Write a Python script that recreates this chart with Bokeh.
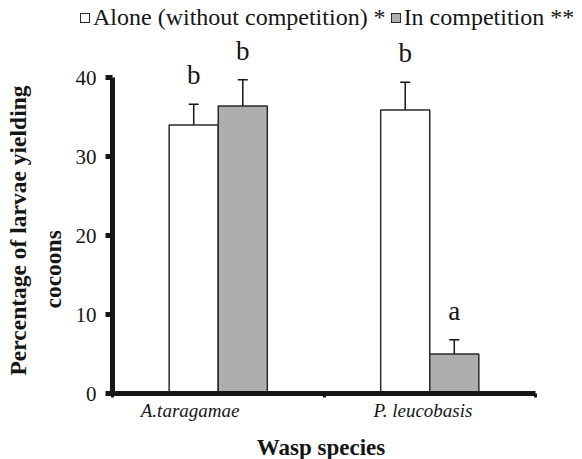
from bokeh.plotting import figure
from bokeh.layouts import column
from bokeh.models import (Range1d, FixedTicker, ColumnDataSource, Whisker, TeeHead,
                          Title, Div)
from bokeh.embed import file_html
from bokeh.resources import INLINE
from bokeh.core.properties import value

# ---------------- data ----------------
species = ["A.taragamae", "P. leucobasis"]
series = ["Alone (without competition) *", "In competition **"]
alone = [34.0, 35.9]
alone_err = [2.6, 3.5]
comp = [36.4, 5.0]
comp_err = [3.3, 1.8]
alone_letters = ["b", "b"]
comp_letters = ["b", "a"]
y_ticks = [0, 10, 20, 30, 40]
y_title = ["Percentage of larvae yielding", "cocoons"]
x_title = "Wasp species"

# ---------------- style ----------------
FONT = "'Liberation Serif', 'Times New Roman', serif"
INK = "#161616"
GRAY = "#adaead"
EDGE = "#2a2a2a"
SERIES_FILL = ["white", GRAY]
BAR_W = 0.232
LABEL_SHIFT = [-0.133, -0.032]   # category label offset (style)
PX_PER_UNIT = 7.9
TOTAL_W, TOTAL_H = 582, 459
LEG_H = 34
FRAME_BOTTOM = 393
BOT_B = 40
MAIN_H = FRAME_BOTTOM - LEG_H + BOT_B
STRIP_H = TOTAL_H - LEG_H - MAIN_H

n = len(species)
centers = [i + 0.5 for i in range(n)]

src_a = ColumnDataSource(dict(
    x=[c - BAR_W / 2 for c in centers], top=alone,
    upper=[v + e for v, e in zip(alone, alone_err)],
    lower=[v - e for v, e in zip(alone, alone_err)],
    letter=alone_letters))
src_c = ColumnDataSource(dict(
    x=[c + BAR_W / 2 for c in centers], top=comp,
    upper=[v + e for v, e in zip(comp, comp_err)],
    lower=[v - e for v, e in zip(comp, comp_err)],
    letter=comp_letters))

# ---------------- legend (top strip) ----------------
def swatch(fill, ml):
    return ('<span style="display:inline-block;box-sizing:border-box;width:10px;'
            'height:10px;border:1.5px solid %s;background:%s;vertical-align:2px;'
            'margin-left:%dpx;margin-right:3px"></span>' % (EDGE, fill, ml))

leg_html = ('<div style="font-family:%s;font-size:24px;line-height:%dpx;color:%s;'
            'white-space:nowrap;padding-left:80px;margin:0">' % (FONT, LEG_H, INK)
            + swatch(SERIES_FILL[0], 0) + series[0]
            + swatch(SERIES_FILL[1], 5) + series[1] + '</div>')
legend_div = Div(text=leg_html, width=TOTAL_W, height=LEG_H, margin=0)

# ---------------- main chart ----------------
p = figure(width=TOTAL_W, height=MAIN_H, output_backend="svg", toolbar_location=None,
           x_range=Range1d(0, n),
           y_range=Range1d(0, (FRAME_BOTTOM - LEG_H) / PX_PER_UNIT),
           min_border_left=112, min_border_right=47, min_border_top=0,
           min_border_bottom=BOT_B)
p.outline_line_color = None
p.xgrid.visible = False
p.ygrid.visible = False

p.vbar(x="x", top="top", bottom=0, width=BAR_W, source=src_a,
       fill_color=SERIES_FILL[0], line_color=EDGE, line_width=1.5)
p.vbar(x="x", top="top", bottom=0, width=BAR_W, source=src_c,
       fill_color=SERIES_FILL[1], line_color=EDGE, line_width=1.5)

for src in (src_a, src_c):
    p.add_layout(Whisker(base="x", upper="upper", lower="lower", source=src,
                         line_color=INK, line_width=1.5,
                         upper_head=TeeHead(size=10, line_color=INK, line_width=1.5),
                         lower_head=TeeHead(size=10, line_color=INK, line_width=1.5)))
    p.text(x="x", y="upper", text="letter", source=src, y_offset=-29,
           text_align="center", text_baseline="alphabetic",
           text_font=value(FONT), text_font_size="27px", text_color=INK)

# y axis
yax = p.yaxis[0]
yax.ticker = FixedTicker(ticks=y_ticks)
yax.bounds = (0, 40)
yax.axis_line_width = 5
yax.axis_line_color = INK
yax.major_tick_line_width = 5
yax.major_tick_line_color = INK
yax.major_tick_out = 7
yax.major_tick_in = 0
yax.minor_tick_line_color = None
yax.major_label_standoff = 9
yax.major_label_text_font = FONT
yax.major_label_text_font_size = "21px"
yax.major_label_text_color = INK

# y title: two lines as stacked left titles (inner first)
p.add_layout(Title(text=y_title[1], align="left", offset=85, standoff=14,
                   text_font=FONT, text_font_style="bold", text_font_size="23.5px",
                   text_color=INK), "left")
p.add_layout(Title(text=y_title[0], align="left", offset=18, standoff=0,
                   text_font=FONT, text_font_style="bold", text_font_size="23.5px",
                   text_color=INK), "left")

# x axis
label_pos = [c + s for c, s in zip(centers, LABEL_SHIFT)]
xax = p.xaxis[0]
xax.ticker = FixedTicker(ticks=label_pos, minor_ticks=list(range(n + 1)))
xax.major_label_overrides = {pos: name for pos, name in zip(label_pos, species)}
xax.axis_line_width = 5
xax.axis_line_color = INK
xax.major_tick_line_color = None
xax.major_tick_out = 0
xax.major_tick_in = 0
xax.minor_tick_out = 4
xax.minor_tick_in = 0
xax.minor_tick_line_width = 3
xax.minor_tick_line_color = INK
xax.major_label_standoff = 2
xax.major_label_text_font = FONT
xax.major_label_text_font_style = "italic"
xax.major_label_text_font_size = "19px"
xax.major_label_text_color = INK

# x title strip
strip = figure(width=TOTAL_W, height=STRIP_H, output_backend="svg", toolbar_location=None,
               x_range=Range1d(0, 1), y_range=Range1d(0, 1),
               x_axis_type=None, y_axis_type=None,
               min_border_left=112, min_border_right=47, min_border_top=0,
               min_border_bottom=0)
strip.outline_line_color = None
strip.xgrid.visible = False
strip.ygrid.visible = False
strip.text(x=[0.5], y=[0], text=[x_title], x_offset=-3, y_offset=-12,
           text_align="center", text_baseline="alphabetic", text_font=value(FONT),
           text_font_style="bold", text_font_size="23px", text_color=INK)

open("out.html", "w").write(file_html(column(legend_div, p, strip, spacing=0), INLINE))
